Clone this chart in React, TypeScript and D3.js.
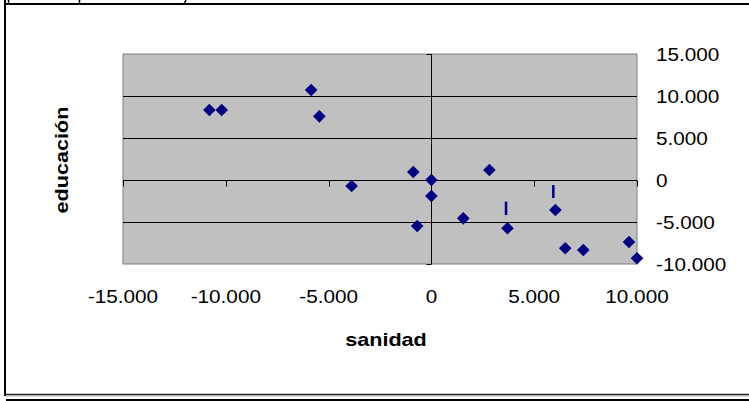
import React, { useEffect, useRef } from 'react';
import * as d3 from 'd3';

// scatter values
const sanidad = [-10800, -10200, -5850, -5450, -3880, -880, 0, 0, -690, 1550, 2820, 3700, 6030, 6510, 7390, 9610, 10000];
const educacion = [8330, 8330, 10710, 7580, -710, 950, 0, -1900, -5480, -4560, 1190, -5750, -3570, -8130, -8330, -7380, -9320];

// the two small vertical marks above points
const markX = [3630, 5930];
const markTop = [-2580, -600];
const markBottom = [-4170, -2140];

const xTicks = [-15000, -10000, -5000, 0, 5000, 10000];
const yTicks = [-10000, -5000, 0, 5000, 10000, 15000];

const App = () => {
  const svgRef = useRef<SVGSVGElement | null>(null);

  useEffect(() => {
    if (!svgRef.current) return;
    const svg = d3.select(svgRef.current);
    svg.selectAll('*').remove();

    const plot = { left: 123, right: 637, top: 54, bottom: 264 };
    const font = '"Liberation Sans", Arial, sans-serif';
    const navy = '#000080';

    const x = d3.scaleLinear().domain([-15000, 10000]).range([plot.left, plot.right]);
    const y = d3.scaleLinear().domain([-10000, 15000]).range([plot.bottom, plot.top]);

    const fmt = d3.formatLocale({
      decimal: ',',
      thousands: '.',
      grouping: [3],
      currency: ['', ''],
      minus: '-',
    }).format(',d');

    // white page
    svg.append('rect').attr('width', 749).attr('height', 401).attr('fill', '#fff');

    // outer frame
    svg.append('line').attr('x1', 4).attr('x2', 749).attr('y1', 4).attr('y2', 4)
      .attr('stroke', '#000').attr('stroke-width', 2);
    svg.append('line').attr('x1', 5).attr('x2', 5).attr('y1', 0).attr('y2', 396)
      .attr('stroke', '#000').attr('stroke-width', 2);
    svg.append('line').attr('x1', 4).attr('x2', 749).attr('y1', 394.5).attr('y2', 394.5)
      .attr('stroke', '#222').attr('stroke-width', 1.5);
    svg.append('line').attr('x1', 6).attr('x2', 749).attr('y1', 396).attr('y2', 396)
      .attr('stroke', '#aaa').attr('stroke-width', 1);
    svg.append('line').attr('x1', 6).attr('x2', 749).attr('y1', 400).attr('y2', 400)
      .attr('stroke', '#000').attr('stroke-width', 2);
    // fragments of the cut-off text above
    svg.append('line').attr('x1', 8.5).attr('x2', 8.5).attr('y1', 0).attr('y2', 4)
      .attr('stroke', '#000').attr('stroke-width', 1.5);
    svg.append('line').attr('x1', 79.5).attr('x2', 79.5).attr('y1', 0).attr('y2', 4)
      .attr('stroke', '#000').attr('stroke-width', 1.5);
    svg.append('line').attr('x1', 186).attr('x2', 184).attr('y1', 0).attr('y2', 4)
      .attr('stroke', '#000').attr('stroke-width', 1.5);

    // plot area
    svg.append('rect')
      .attr('x', plot.left).attr('y', plot.top)
      .attr('width', plot.right - plot.left).attr('height', plot.bottom - plot.top)
      .attr('fill', '#c0c0c0').attr('stroke', '#808080').attr('stroke-width', 1);

    // gridlines
    svg.append('g').selectAll('line')
      .data(yTicks.filter(d => d > -10000 && d < 15000))
      .enter().append('line')
      .attr('x1', plot.left).attr('x2', plot.right)
      .attr('y1', d => Math.round(y(d)) + 0.5).attr('y2', d => Math.round(y(d)) + 0.5)
      .attr('stroke', '#000').attr('stroke-width', 1);

    // vertical axis at x = 0
    const x0 = Math.round(x(0)) + 0.5;
    svg.append('line').attr('x1', x0).attr('x2', x0)
      .attr('y1', plot.top).attr('y2', plot.bottom).attr('stroke', '#000');
    svg.append('g').selectAll('line').data(yTicks).enter().append('line')
      .attr('x1', x0 - 5).attr('x2', x0)
      .attr('y1', d => Math.round(y(d)) + 0.5).attr('y2', d => Math.round(y(d)) + 0.5)
      .attr('stroke', '#000');

    // horizontal axis at y = 0 with ticks below
    const y0 = Math.round(y(0)) + 0.5;
    svg.append('g').selectAll('line').data(xTicks).enter().append('line')
      .attr('x1', d => Math.round(x(d)) + 0.5).attr('x2', d => Math.round(x(d)) + 0.5)
      .attr('y1', y0).attr('y2', y0 + 6)
      .attr('stroke', '#000');

    // y tick labels, right of the plot
    svg.append('g').selectAll('text').data(yTicks).enter().append('text')
      .attr('transform', d => `translate(656,${y(d) + 6.5}) scale(1.12,1)`)
      .style('font-family', font).style('font-size', '18.5px').style('fill', '#000')
      .text(d => fmt(d));

    // x tick labels, below the plot
    svg.append('g').selectAll('text').data(xTicks).enter().append('text')
      .attr('transform', d => `translate(${x(d)},303) scale(1.12,1)`)
      .attr('text-anchor', 'middle')
      .style('font-family', font).style('font-size', '18.5px').style('fill', '#000')
      .text(d => fmt(d));

    // axis titles
    svg.append('text')
      .attr('transform', 'translate(386,346) scale(1.2,1)')
      .attr('text-anchor', 'middle')
      .style('font-family', font).style('font-size', '18px').style('font-weight', 'bold')
      .text('sanidad');
    svg.append('text')
      .attr('transform', 'translate(68,160) rotate(-90) scale(1.2,1)')
      .attr('text-anchor', 'middle')
      .style('font-family', font).style('font-size', '18px').style('font-weight', 'bold')
      .text('educación');

    // small vertical marks
    svg.append('g').selectAll('line').data(markX).enter().append('line')
      .attr('x1', d => x(d)).attr('x2', d => x(d))
      .attr('y1', (d, i) => y(markTop[i])).attr('y2', (d, i) => y(markBottom[i]))
      .attr('stroke', navy).attr('stroke-width', 2.5);

    // diamonds
    const diamond = d3.symbol().type(d3.symbolSquare).size(80);
    svg.append('g').selectAll('path').data(sanidad).enter().append('path')
      .attr('d', diamond)
      .attr('transform', (d, i) => `translate(${x(d)},${y(educacion[i])}) rotate(45)`)
      .attr('fill', navy);
  }, []);

  return (
    <svg
      ref={svgRef}
      width={749}
      height={401}
      style={{ position: 'absolute', left: 0, top: 0, display: 'block' }}
    />
  );
};

export default App;
